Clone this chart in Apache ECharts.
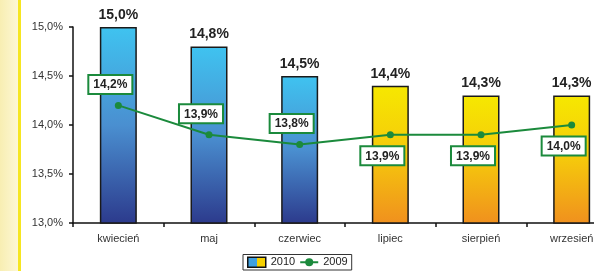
<!DOCTYPE html>
<html>
<head>
<meta charset="utf-8">
<script src="https://cdn.jsdelivr.net/npm/echarts@6/dist/echarts.min.js"></script>
<style>
  html, body { margin: 0; padding: 0; background: #fff; }
  #chart { width: 594px; height: 271px; }
</style>
</head>
<body>
<div id="chart"></div>
<script>
  // data
  let months = ["kwiecień", "maj", "czerwiec", "lipiec", "sierpień", "wrzesień"];
  let values2010 = [15.0, 14.8, 14.5, 14.4, 14.3, 14.3];
  let values2009 = [14.2, 13.9, 13.8, 13.9, 13.9, 14.0];
  let labelBelow2009 = [false, false, false, true, true, true];
  let blueMonths = 3;

  let font = "'Liberation Sans', Arial, sans-serif";
  let green = "#1b8a3c";

  function pct(v) {
    return v.toFixed(1).replace(".", ",") + "%";
  }

  function grad(top, mid, bottom) {
    return new echarts.graphic.LinearGradient(0, 0, 0, 1, [
      { offset: 0, color: top },
      { offset: 0.5, color: mid },
      { offset: 1, color: bottom }
    ]);
  }

  let blue = grad("#3fc3f0", "#4a8fd0", "#2c3a8c");
  let yellow = grad("#f6e800", "#f5c80c", "#f0901e");

  let barData = values2010.map(function (v, i) {
    return { value: v, itemStyle: { color: i < blueMonths ? blue : yellow } };
  });

  let lineData = values2009.map(function (v, i) {
    return {
      value: v,
      label: labelBelow2009[i]
        ? { position: "bottom", distance: 9 }
        : { position: "top", distance: 9 }
    };
  });

  let chart = echarts.init(document.getElementById("chart"));

  let option = {
    animation: false,
    textStyle: { fontFamily: font },
    graphic: [
      {
        type: "rect",
        shape: { x: 0, y: 0, width: 18, height: 271 },
        style: {
          fill: new echarts.graphic.LinearGradient(0, 0, 1, 0, [
            { offset: 0, color: "#f8eeb2" },
            { offset: 1, color: "#fdf7d4" }
          ])
        },
        silent: true
      },
      {
        type: "rect",
        shape: { x: 18, y: 0, width: 3, height: 271 },
        style: { fill: "#f6e620" },
        silent: true
      }
    ],
    // the plot runs past the right edge of the picture
    grid: { left: 73, width: 544, top: 27, height: 196, outerBoundsMode: "none" },
    legend: {
      bottom: 1,
      left: 243,
      itemGap: 4,
      itemWidth: 18,
      itemHeight: 10,
      borderColor: "#333",
      borderWidth: 1,
      padding: [2, 4],
      textStyle: { fontSize: 11, color: "#222", fontFamily: font },
      data: [
        {
          name: "2010",
          icon: "rect",
          itemStyle: {
            color: new echarts.graphic.LinearGradient(0, 0, 1, 0, [
              { offset: 0, color: "#3fa0e0" },
              { offset: 0.5, color: "#3fa0e0" },
              { offset: 0.5, color: "#f6d000" },
              { offset: 1, color: "#f6d000" }
            ]),
            borderColor: "#111",
            borderWidth: 1.5
          }
        },
        { name: "2009" }
      ]
    },
    xAxis: {
      type: "category",
      data: months,
      axisLine: { lineStyle: { color: "#111", width: 1.5 } },
      axisTick: { show: true, length: 4, lineStyle: { color: "#111", width: 1.5 } },
      axisLabel: { fontSize: 11, color: "#333", margin: 10 }
    },
    yAxis: {
      type: "value",
      min: 13,
      max: 15,
      interval: 0.5,
      axisLine: { show: true, lineStyle: { color: "#111", width: 1.5 } },
      axisTick: { show: true, length: 4, lineStyle: { color: "#111", width: 1.5 } },
      splitLine: { show: false },
      axisLabel: { fontSize: 11, color: "#333", margin: 10, formatter: pct }
    },
    series: [
      {
        name: "2010",
        type: "bar",
        barWidth: 37,
        data: barData,
        itemStyle: { borderColor: "#1a1a1a", borderWidth: 1.5, color: "#3fa0e0" },
        label: {
          show: true,
          position: "top",
          distance: 5,
          fontSize: 14,
          fontWeight: "bold",
          color: "#222",
          formatter: function (p) { return pct(p.value); }
        }
      },
      {
        name: "2009",
        type: "line",
        data: lineData,
        z: 5,
        symbol: "circle",
        symbolSize: 7,
        color: green,
        lineStyle: { color: green, width: 2 },
        itemStyle: { color: green },
        label: {
          show: true,
          offset: [-8, 0],
          fontSize: 12,
          fontWeight: "bold",
          color: "#222",
          backgroundColor: "#fff",
          borderColor: green,
          borderWidth: 2,
          padding: [3, 4, 2, 4],
          formatter: function (p) { return pct(p.value); }
        }
      }
    ]
  };

  chart.setOption(option);
</script>
</body>
</html>
